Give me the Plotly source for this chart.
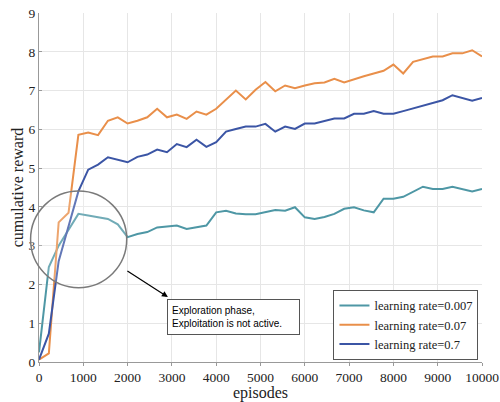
import plotly.graph_objects as go

# ── Data ───────────────────────────────────────────────────────────────
episodes = [round(i * 10000 / 45) for i in range(46)]

lr_0007 = [0.25, 2.45, 3.00, 3.42, 3.82, 3.78, 3.74, 3.69, 3.55, 3.22,
           3.30, 3.35, 3.47, 3.50, 3.52, 3.43, 3.47, 3.52, 3.86, 3.90,
           3.83, 3.81, 3.81, 3.86, 3.92, 3.90, 3.99, 3.73, 3.69, 3.74,
           3.82, 3.95, 3.99, 3.91, 3.86, 4.21, 4.21, 4.26, 4.39, 4.52,
           4.46, 4.46, 4.52, 4.46, 4.40, 4.46]
lr_007 = [0.06, 0.22, 3.60, 3.85, 5.86, 5.92, 5.85, 6.22, 6.31, 6.15,
          6.22, 6.31, 6.53, 6.31, 6.38, 6.27, 6.46, 6.38, 6.53, 6.77,
          7.00, 6.77, 7.02, 7.22, 6.98, 7.13, 7.06, 7.13, 7.19, 7.21,
          7.30, 7.21, 7.30, 7.37, 7.44, 7.51, 7.67, 7.44, 7.74, 7.81,
          7.88, 7.88, 7.96, 7.96, 8.04, 7.88]
lr_07 = [0.06, 0.73, 2.60, 3.50, 4.40, 4.96, 5.09, 5.28, 5.22, 5.15,
         5.29, 5.35, 5.48, 5.41, 5.62, 5.54, 5.73, 5.55, 5.67, 5.94,
         6.01, 6.07, 6.07, 6.14, 5.94, 6.07, 6.01, 6.15, 6.15, 6.21,
         6.28, 6.28, 6.40, 6.40, 6.47, 6.40, 6.40, 6.47, 6.54, 6.61,
         6.68, 6.75, 6.88, 6.81, 6.74, 6.81]

series = [
    ("learning rate=0.007", lr_0007, "#4e97a5"),
    ("learning rate=0.07", lr_007, "#e98f4a"),
    ("learning rate=0.7", lr_07, "#3b55a5"),
]

SERIF = "Liberation Serif, Times New Roman, serif"
GRID = "#e6e6e6"

fig = go.Figure()
for name, ys, color in series:
    fig.add_trace(go.Scatter(
        x=episodes, y=ys, name=name, mode="lines",
        line=dict(color=color, width=2),
    ))

# highlight circle around the exploration phase
fig.add_shape(
    type="circle", xref="paper", yref="paper",
    x0=-0.019, x1=0.198, y0=0.213, y1=0.49,
    line=dict(color="#7a7a7a", width=1.5),
    fillcolor="rgba(255,255,255,0.2)", layer="above",
)

# arrow from circle to the note
fig.add_annotation(
    xref="paper", yref="paper", x=0.291, y=0.186,
    ax=-42, ay=-27, text="", showarrow=True,
    arrowhead=2, arrowsize=1, arrowwidth=1.2, arrowcolor="black", standoff=0,
)
fig.add_annotation(
    xref="paper", yref="paper", x=0.288, y=0.1805,
    xanchor="left", yanchor="top", showarrow=False,
    text="Exploration phase,<br>Exploitation is not active.",
    align="left", width=123, height=26, borderpad=4,
    bordercolor="#555", borderwidth=1, bgcolor="white",
    font=dict(family="Liberation Sans, Arial, sans-serif", size=10, color="black"),
)

fig.update_layout(
    width=500, height=402,
    paper_bgcolor="white", plot_bgcolor="white",
    margin=dict(l=39, r=18, t=13, b=40),
    font=dict(family=SERIF, color="#222", size=13.5),
    legend=dict(
        x=0.992, y=0.006, xanchor="right", yanchor="bottom",
        bgcolor="white", bordercolor="#555", borderwidth=1,
        font=dict(family=SERIF, size=12.5, color="#222"),
        itemwidth=30, tracegroupgap=0,
    ),
    xaxis=dict(
        range=[0, 10000], dtick=1000, tick0=0, tickformat="d",
        gridcolor=GRID, showline=True, linecolor="#999", linewidth=1,
        ticks="outside", ticklen=3, tickcolor="#999", zeroline=False,
        automargin=False, ticklabeloverflow="allow",
        tickfont=dict(family=SERIF, size=13.5, color="#222"),
        title=dict(text="episodes", font=dict(family=SERIF, size=16, color="#222"), standoff=6),
    ),
    yaxis=dict(
        range=[0, 9], dtick=1, tick0=0,
        gridcolor=GRID, showline=True, linecolor="#999", linewidth=1,
        ticks="inside", ticklen=3, tickcolor="#999", zeroline=False,
        automargin=False, ticklabeloverflow="allow",
        tickfont=dict(family=SERIF, size=13.5, color="#222"),
        title=dict(text="cumulative reward", font=dict(family=SERIF, size=16, color="#222"), standoff=0),
    ),
)

# plotly's page keeps the browser's default 8px body margin; drop it so the
# 500x402 figure fills the window exactly
fig.write_html(
    "out.html",
    config={"displayModeBar": False},
    post_script="document.body.style.margin='0';",
)
